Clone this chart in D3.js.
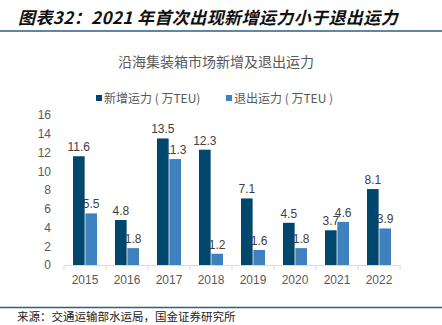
<!DOCTYPE html>
<html>
<head>
<meta charset="utf-8">
<script src="https://cdn.jsdelivr.net/npm/d3@7"></script>
<style>
  body { margin: 0; background: #fff; }
  svg { display: block; }
</style>
</head>
<body>
<div id="viz"></div>
<script>
var years = ['2015', '2016', '2017', '2018', '2019', '2020', '2021', '2022'],
    newCap = [11.6, 4.8, 13.5, 12.3, 7.1, 4.5, 3.7, 8.1],
    exitCap = [5.5, 1.8, 11.3, 1.2, 1.6, 1.8, 4.6, 3.9],
    seriesNames = ['新增运力 ( 万TEU)', '退出运力 ( 万TEU )'],
    seriesKeys = ['new', 'exit'],
    yTicks = [0, 2, 4, 6, 8, 10, 12, 14, 16];

var width = 442, height = 325,
    margin = { top: 115, left: 64, right: 42, bottom: 60 },
    colors = { 'new': '#00476e', 'exit': '#3f80bf' },
    numFont = '"Liberation Sans", Arial, sans-serif',
    cjkFont = '"Noto Sans CJK SC", "Noto Sans", sans-serif';

var svg = d3.select('#viz').append('svg')
  .attr('width', width)
  .attr('height', height);

// header
svg.append('text')
  .attr('x', 18).attr('y', 24)
  .attr('font-family', cjkFont)
  .attr('font-size', 17)
  .attr('font-weight', 'bold')
  .attr('font-style', 'italic')
  .attr('letter-spacing', 0.4)
  .attr('fill', '#111')
  .text('图表32：2021 年首次出现新增运力小于退出运力');

svg.append('line')
  .attr('x1', 0).attr('x2', width)
  .attr('y1', 31).attr('y2', 31)
  .attr('stroke', '#2a5f86').attr('stroke-width', 1.5);

svg.append('text')
  .attr('x', 216).attr('y', 67)
  .attr('text-anchor', 'middle')
  .attr('font-family', cjkFont)
  .attr('font-size', 14)
  .attr('fill', '#595959')
  .text('沿海集装箱市场新增及退出运力');

// legend
var legendX = [96, 226];
seriesKeys.forEach(function(k, i) {
  svg.append('rect')
    .attr('x', legendX[i]).attr('y', 95)
    .attr('width', 6).attr('height', 6)
    .attr('fill', colors[k]);
  svg.append('text')
    .attr('x', legendX[i] + 8).attr('y', 103)
    .attr('font-family', cjkFont)
    .attr('font-size', 12)
    .attr('fill', '#595959')
    .text(seriesNames[i]);
});

var yScale = d3.scaleLinear()
  .domain([0, 16])
  .range([265, margin.top]);

var xScale = d3.scaleBand()
  .domain(years)
  .range([64, 400])
  .padding(0);

var x1 = d3.scaleBand()
  .domain(seriesKeys)
  .range([9, 33])
  .paddingInner(0.06);

// y axis labels
var yAxis = d3.axisLeft(yScale).tickValues(yTicks).tickSize(0).tickPadding(0);
var yG = svg.append('g')
  .attr('transform', 'translate(51,0)')
  .call(yAxis);
yG.select('.domain').remove();
yG.selectAll('text')
  .attr('font-family', numFont)
  .attr('font-size', 12)
  .attr('fill', '#595959');

// x axis
var xAxis = d3.axisBottom(xScale).tickSize(0).tickPadding(10);
var xG = svg.append('g')
  .attr('transform', 'translate(0,265)')
  .call(xAxis);
xG.select('.domain').attr('stroke', '#d9d9d9');
xG.selectAll('text')
  .attr('font-family', numFont)
  .attr('font-size', 12)
  .attr('fill', '#595959');

var bounds = years.map(function(y) { return xScale(y); }).concat([400]);
svg.selectAll('.xtick').data(bounds)
  .enter().append('line')
  .attr('x1', function(d) { return d; })
  .attr('x2', function(d) { return d; })
  .attr('y1', 265).attr('y2', 270)
  .attr('stroke', '#d9d9d9');

// bars
var rows = years.map(function(y, i) {
  return { year: y, 'new': newCap[i], 'exit': exitCap[i] };
});

var groups = svg.selectAll('.grp').data(rows)
  .enter().append('g')
  .attr('transform', function(d) { return 'translate(' + xScale(d.year) + ',0)'; });

groups.selectAll('rect')
  .data(function(d) { return seriesKeys.map(function(k) { return { key: k, value: d[k] }; }); })
  .enter().append('rect')
  .attr('x', function(d) { return x1(d.key); })
  .attr('width', x1.bandwidth())
  .attr('y', function(d) { return yScale(d.value); })
  .attr('height', function(d) { return yScale(0) - yScale(d.value); })
  .attr('fill', function(d) { return colors[d.key]; });

groups.selectAll('.lbl')
  .data(function(d) { return seriesKeys.map(function(k) { return { key: k, value: d[k] }; }); })
  .enter().append('text')
  .attr('x', function(d) { return x1(d.key) + x1.bandwidth() / 2; })
  .attr('y', function(d) { return yScale(d.value) - 5; })
  .attr('text-anchor', 'middle')
  .attr('font-family', numFont)
  .attr('font-size', 12)
  .attr('fill', '#404040')
  .text(function(d) { return d.value.toFixed(1); });

// footer
svg.append('line')
  .attr('x1', 0).attr('x2', width)
  .attr('y1', 307.5).attr('y2', 307.5)
  .attr('stroke', '#2a5f86').attr('stroke-width', 1.5);

svg.append('text')
  .attr('x', 17).attr('y', 321)
  .attr('font-family', cjkFont)
  .attr('font-size', 11.5)
  .attr('fill', '#222')
  .text('来源：交通运输部水运局，国金证券研究所');
</script>
</body>
</html>
